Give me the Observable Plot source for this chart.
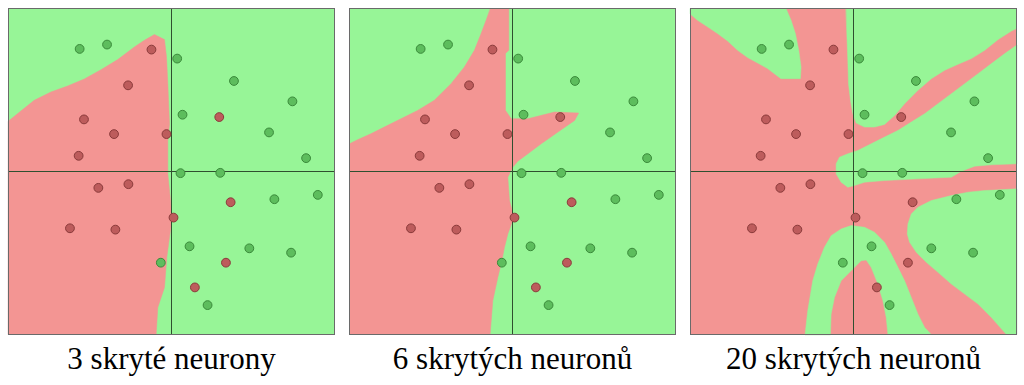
<!DOCTYPE html>
<html>
<head>
<meta charset="utf-8">
<script src="https://cdn.jsdelivr.net/npm/d3@7"></script>
<script src="https://cdn.jsdelivr.net/npm/@observablehq/plot@0.6"></script>
<style>
  html, body { margin: 0; padding: 0; background: #fff; }
  #chart { width: 1024px; height: 385px; }
  #chart svg text { font-family: "Liberation Serif", "Times New Roman", serif; }
</style>
</head>
<body>
<div id="chart"></div>
<script>
// ---- categories (one panel per network size) ----
const panels = ["3 skryté neurony", "6 skrytých neuronů", "20 skrytých neuronů"];

// ---- training points (same in every panel) ----
const greenX = [-275, -193, 17, 187, 362, 33, 292, 403, 27, 146, 438, 308, 54, 233, 358, -32, 108];
const greenY = [367, 380, 338, 271, 210, 170, 117, 40, -5, -4, -70, -83, -224, -230, -243, -273, -400];
const redX = [-60, -130, -262, -172, -15, 143, -278, -219, -129, -304, -168, 6, 177, 163, 70];
const redY = [365, 258, 156, 112, 112, 163, 47, -49, -38, -170, -174, -138, -92, -273, -347];

// ---- decision regions ----
// background class of each panel
const backgroundClass = ["green", "green", "red"];

// panel 1: red region
const panel1Red = [
  [-488, 151], [-451, 181], [-411, 213], [-361, 238], [-311, 256], [-261, 277], [-211, 305],
  [-161, 335], [-111, 373], [-81, 393], [-51, 410], [-21, 395], [-15, 343], [-11, 263],
  [-6, 143], [-11, 93], [-11, -7], [-3, -87], [1, -147], [-6, -197], [-14, -257],
  [-21, -347], [-41, -407], [-46, -488], [-488, -488]
];

// panel 2: red region
const panel2Red = [
  [-66, 488], [-11, 488], [-11, 363], [-21, 353], [-21, 183], [-4, 158], [46, 158],
  [126, 178], [198, 175], [186, 153], [136, 118], [86, 83], [46, 53], [16, 31], [1, 13],
  [-14, -17], [-9, -87], [4, -137], [-14, -187], [-24, -227], [-32, -267], [-44, -317],
  [-59, -387], [-67, -488], [-488, -488], [-488, 83], [-464, 95], [-424, 113], [-384, 133],
  [-334, 158], [-284, 183], [-234, 213], [-184, 263], [-144, 313], [-114, 363], [-94, 413],
  [-79, 453]
];

// panel 3: green regions
const panel3GreenTopLeft = [
  [-488, 488], [-202, 488], [-187, 453], [-174, 413], [-164, 363], [-157, 313], [-159, 278],
  [-217, 278], [-237, 293], [-257, 308], [-287, 325], [-317, 341], [-347, 363], [-377, 391],
  [-407, 413], [-437, 433], [-467, 453], [-488, 471]
];
const panel3GreenTopRight = [
  [-22, 488], [488, 488], [488, 428], [473, 421], [433, 395], [393, 363], [353, 338],
  [313, 321], [273, 303], [233, 278], [193, 243], [153, 203], [123, 168], [93, 141],
  [63, 133], [33, 133], [8, 145], [-2, 173], [-9, 213], [-15, 263], [-17, 333], [-20, 413]
];
const panel3GreenMiddle = [
  [488, 378], [453, 353], [413, 323], [373, 293], [333, 263], [293, 233], [253, 203],
  [213, 173], [173, 148], [133, 123], [93, 103], [53, 83], [13, 63], [-17, 53], [-42, 43],
  [-52, 23], [-52, -7], [-37, -32], [-17, -47], [3, -42], [33, -32], [93, -27], [193, -22],
  [293, -17], [323, 1], [363, 16], [413, 20], [488, 23]
];
const panel3GreenBottomRight = [
  [488, -52], [453, -54], [393, -57], [343, -62], [293, -72], [233, -87], [193, -107],
  [173, -127], [163, -157], [161, -187], [168, -212], [188, -242], [218, -272], [253, -302],
  [293, -337], [333, -367], [373, -397], [413, -437], [448, -477], [458, -488], [488, -488]
];
const panel3GreenArch = [
  [-145, -488], [-137, -417], [-122, -327], [-107, -277], [-87, -227], [-67, -192],
  [-37, -172], [-7, -162], [33, -167], [63, -182], [93, -212], [113, -247], [133, -287],
  [153, -327], [173, -377], [193, -427], [213, -467], [233, -488],
  [103, -488], [98, -437], [88, -387], [73, -337], [53, -287], [38, -265], [23, -267],
  [-7, -297], [-37, -327], [-57, -377], [-67, -427], [-69, -488]
];

// ---- colours ----
const GREEN_BG = "#97f597";
const RED_BG = "#f39593";
const GREEN_DOT = "#5dbd5d", GREEN_DOT_STROKE = "#3a8a3a";
const RED_DOT = "#bd5c5c", RED_DOT_STROKE = "#8a3a3a";
const SERIF = "Liberation Serif, Times New Roman, serif";

// ---- build tables ----
const backgrounds = panels.map((p, i) => ({panel: p, cls: backgroundClass[i]}));

const polygons = [
  {panel: panels[0], cls: "red", ring: panel1Red},
  {panel: panels[1], cls: "red", ring: panel2Red},
  {panel: panels[2], cls: "green", ring: panel3GreenTopLeft},
  {panel: panels[2], cls: "green", ring: panel3GreenTopRight},
  {panel: panels[2], cls: "green", ring: panel3GreenMiddle},
  {panel: panels[2], cls: "green", ring: panel3GreenBottomRight},
  {panel: panels[2], cls: "green", ring: panel3GreenArch}
];
const vertices = polygons.flatMap((poly, id) =>
  poly.ring.map(([x, y]) => ({id, panel: poly.panel, cls: poly.cls, x, y}))
);
const redVerts = vertices.filter(d => d.cls === "red");
const greenVerts = vertices.filter(d => d.cls === "green");

const greenPts = greenX.map((x, i) => ({x, y: greenY[i]}));
const redPts = redX.map((x, i) => ({x, y: redY[i]}));

const chart = Plot.plot({
  width: 1024,
  height: 385,
  marginTop: 8,
  marginBottom: 51,
  marginLeft: 8,
  marginRight: 8,
  x: {domain: [-488, 488], axis: null},
  y: {domain: [-488, 488], axis: null},
  fx: {domain: panels, paddingInner: 0.044, paddingOuter: 0, label: null},
  style: {fontFamily: SERIF, color: "black", background: "white"},
  marks: [
    Plot.rect(backgrounds, {fx: "panel", fill: d => d.cls === "red" ? RED_BG : GREEN_BG}),
    Plot.line(redVerts, {x: "x", y: "y", z: "id", fx: "panel", fill: RED_BG, stroke: RED_BG, strokeWidth: 0.5, curve: "linear-closed"}),
    Plot.line(greenVerts, {x: "x", y: "y", z: "id", fx: "panel", fill: GREEN_BG, stroke: GREEN_BG, strokeWidth: 0.5, curve: "linear-closed"}),
    Plot.ruleX([0], {stroke: "#2f4f2f", strokeWidth: 1}),
    Plot.ruleY([0], {stroke: "#2f4f2f", strokeWidth: 1}),
    Plot.frame({stroke: "#6a6a6a", strokeWidth: 1}),
    Plot.dot(greenPts, {x: "x", y: "y", r: 4.4, fill: GREEN_DOT, stroke: GREEN_DOT_STROKE, strokeWidth: 1}),
    Plot.dot(redPts, {x: "x", y: "y", r: 4.4, fill: RED_DOT, stroke: RED_DOT_STROKE, strokeWidth: 1}),
    Plot.axisFx({anchor: "bottom", tickSize: 0, tickPadding: 12, fontSize: 31, fontFamily: SERIF, label: null, fill: "black"})
  ]
});
document.getElementById("chart").appendChild(chart);
</script>
</body>
</html>
